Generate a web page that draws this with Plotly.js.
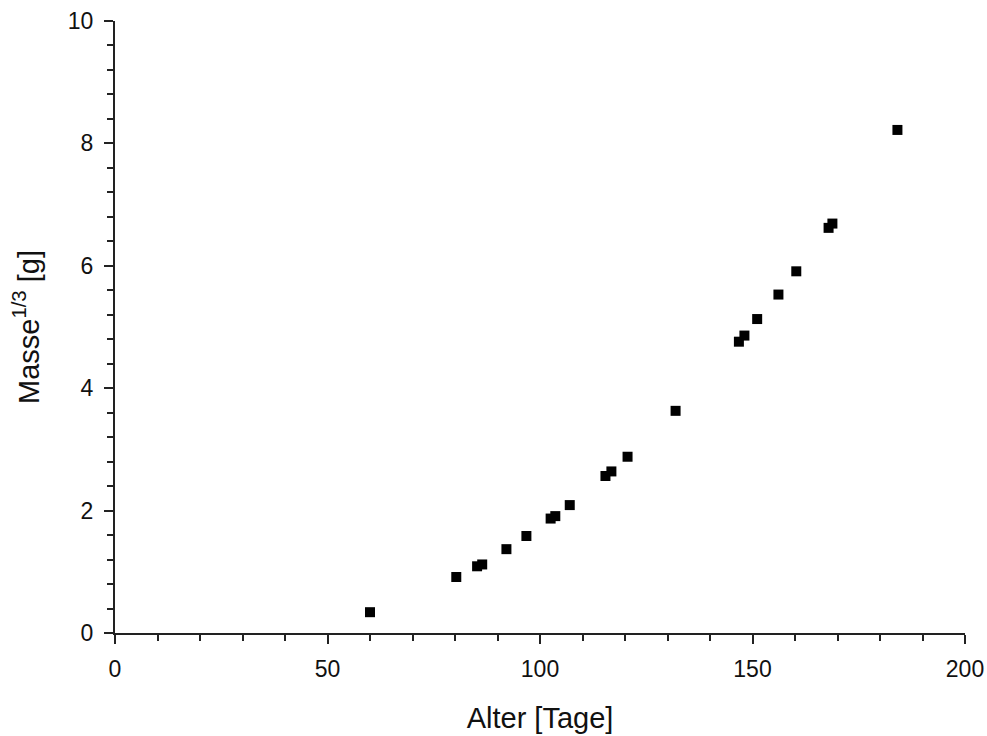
<!DOCTYPE html>
<html>
<head>
<meta charset="utf-8">
<script src="https://cdn.plot.ly/plotly-3.0.1.min.js"></script>
<style>html,body{margin:0;padding:0;background:#fff;}#chart{width:987px;height:736px;}</style>
</head>
<body>
<div id="chart"></div>
<script>
const alterTage = [60, 80.3, 85.2, 86.4, 92.1, 96.8, 102.5, 103.6, 107, 115.4, 116.8, 120.6, 131.9, 146.8, 148.1, 151.1, 156.1, 160.3, 167.9, 168.8, 184.1];
const masseCubeRoot = [0.34, 0.915, 1.09, 1.12, 1.37, 1.585, 1.87, 1.91, 2.09, 2.565, 2.64, 2.88, 3.63, 4.76, 4.86, 5.13, 5.53, 5.91, 6.62, 6.69, 8.22];
const xTitle = 'Alter [Tage]';
const yTitle = 'Masse<sup>1/3</sup> [g]';

const fontFam = 'Arial, "Liberation Sans", sans-serif';
const axisColor = '#222';

Plotly.newPlot('chart', [{
  x: alterTage,
  y: masseCubeRoot,
  type: 'scatter',
  mode: 'markers',
  marker: {symbol: 'square', size: 10, color: '#000'},
  hoverinfo: 'x+y'
}], {
  width: 987,
  height: 736,
  margin: {l: 115, r: 22, t: 21, b: 103, pad: 0},
  paper_bgcolor: '#fff',
  plot_bgcolor: '#fff',
  showlegend: false,
  font: {family: fontFam, color: '#111'},
  xaxis: {
    range: [0, 200],
    dtick: 50,
    tick0: 0,
    showgrid: false,
    zeroline: false,
    showline: true,
    linecolor: axisColor,
    linewidth: 2,
    ticks: 'outside',
    ticklen: 9,
    tickwidth: 2,
    tickcolor: axisColor,
    ticklabelstandoff: 5,
    tickfont: {size: 23, family: fontFam, color: '#111'},
    minor: {dtick: 10, ticks: 'outside', ticklen: 6, tickwidth: 2, tickcolor: axisColor, showgrid: false},
    title: {text: xTitle, font: {size: 29, family: fontFam, color: '#111'}, standoff: 27},
    automargin: false
  },
  yaxis: {
    range: [0, 10],
    dtick: 2,
    tick0: 0,
    showgrid: false,
    zeroline: false,
    showline: true,
    linecolor: axisColor,
    linewidth: 2,
    ticks: 'outside',
    ticklen: 9,
    tickwidth: 2,
    tickcolor: axisColor,
    ticklabelstandoff: 6,
    tickfont: {size: 23, family: fontFam, color: '#111'},
    minor: {dtick: 0.4, ticks: 'outside', ticklen: 6, tickwidth: 2, tickcolor: axisColor, showgrid: false},
    title: {text: yTitle, font: {size: 29, family: fontFam, color: '#111'}, standoff: 20},
    automargin: false
  }
}, {displayModeBar: false, staticPlot: true});
</script>
</body>
</html>
